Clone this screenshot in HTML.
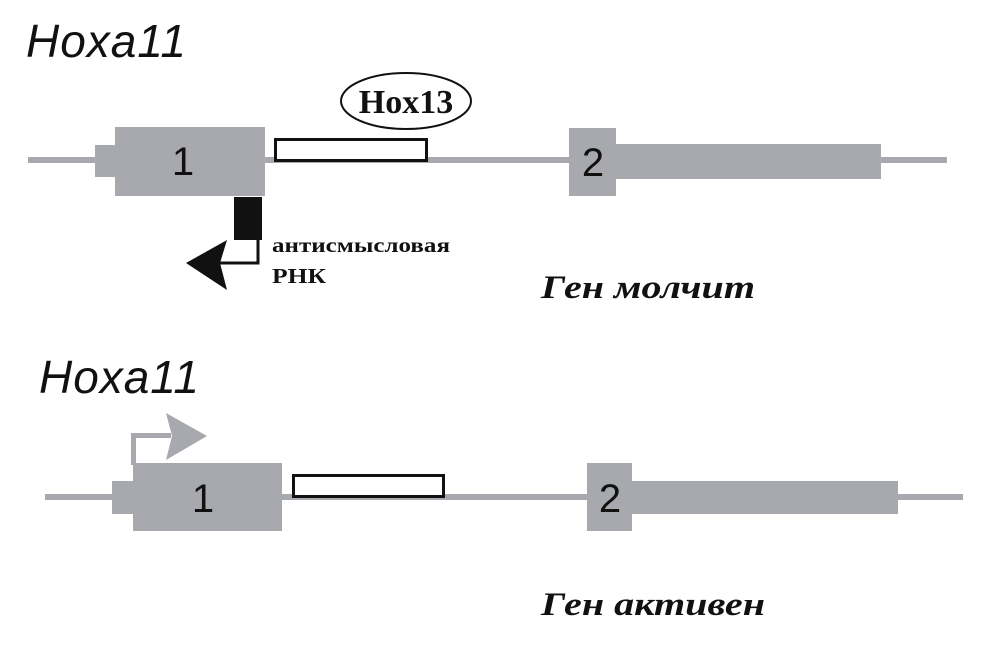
<!DOCTYPE html>
<html><head><meta charset="utf-8"><style>
html,body{margin:0;padding:0;background:#fff;}
svg{display:block}
</style></head><body>
<svg width="1000" height="653" viewBox="0 0 1000 653" xmlns="http://www.w3.org/2000/svg">
<g fill="#a7a9ae">
<!-- top -->
<rect x="28" y="157" width="919" height="6"/>
<rect x="95" y="145" width="22" height="32"/>
<rect x="115" y="127" width="150" height="69"/>
<rect x="569" y="128" width="47" height="68"/>
<rect x="614" y="144" width="267" height="35"/>
<!-- bottom -->
<rect x="45" y="494" width="918" height="6"/>
<rect x="112" y="481" width="23" height="33"/>
<rect x="133" y="463" width="149" height="68"/>
<rect x="587" y="463" width="45" height="68"/>
<rect x="630" y="481" width="268" height="33"/>
<!-- gray arrow -->
<rect x="131" y="433" width="5" height="32"/>
<rect x="131" y="433" width="40" height="5"/>
<polygon points="207,436 166,413 172,436 166,460"/>
</g>
<rect x="275.5" y="139.5" width="151" height="21" fill="#fff" stroke="#111" stroke-width="3"/>
<rect x="293.5" y="475.5" width="150" height="21" fill="#fff" stroke="#111" stroke-width="3"/>
<ellipse cx="406" cy="101" rx="65" ry="28" fill="#fff" stroke="#111" stroke-width="2"/>
<text x="406" y="113" text-anchor="middle" font-family="Liberation Serif, serif" font-weight="bold" font-size="34" fill="#111">Hox13</text>
<!-- black antisense -->
<rect x="234" y="197" width="28" height="43" fill="#111"/>
<polyline points="258,240 258,263 218,263" fill="none" stroke="#111" stroke-width="3"/>
<polygon points="186,263 227,240 220,263 227,290" fill="#111"/>
<g font-family="Liberation Sans, sans-serif" font-size="46" fill="#111">
<text x="26" y="57" font-style="italic" textLength="160" lengthAdjust="spacing">Hoxa11</text>
<text x="39" y="393" font-style="italic" textLength="160" lengthAdjust="spacing">Hoxa11</text>
</g>
<g font-family="Liberation Sans, sans-serif" font-size="40" fill="#111" text-anchor="middle">
<text x="183" y="175">1</text>
<text x="593" y="176">2</text>
<text x="203" y="512">1</text>
<text x="610" y="512">2</text>
</g>
<g font-family="Liberation Serif, serif" font-weight="bold" font-size="21" fill="#111">
<text x="272" y="252" textLength="178" lengthAdjust="spacingAndGlyphs">антисмысловая</text>
<text x="272" y="283" textLength="54" lengthAdjust="spacingAndGlyphs">РНК</text>
</g>
<g font-family="Liberation Serif, serif" font-weight="bold" font-style="italic" font-size="33" fill="#111">
<text x="541" y="298" textLength="214" lengthAdjust="spacingAndGlyphs">Ген молчит</text>
<text x="541" y="615" textLength="224" lengthAdjust="spacingAndGlyphs">Ген активен</text>
</g>
</svg>
</body></html>
